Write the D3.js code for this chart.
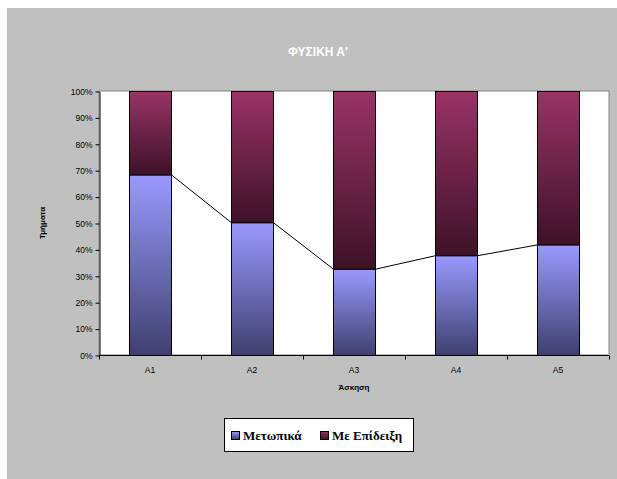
<!DOCTYPE html>
<html>
<head>
<meta charset="utf-8">
<script src="https://cdn.jsdelivr.net/npm/d3@7"></script>
<style>
  html, body { margin: 0; padding: 0; background: #ffffff; }
  svg { display: block; }
</style>
</head>
<body>
<script>
// ---- data ----
const categories = ["A1", "A2", "A3", "A4", "A5"];
const metopika = [0.684, 0.503, 0.327, 0.378, 0.419];     // Μετωπικά share
const epideixi = [0.316, 0.497, 0.673, 0.622, 0.581];     // Με Επίδειξη share
const seriesNames = ["Μετωπικά", "Με Επίδειξη"];
const yTicks = [0, 0.1, 0.2, 0.3, 0.4, 0.5, 0.6, 0.7, 0.8, 0.9, 1.0];
const title = "ΦΥΣΙΚΗ Α'";
const xTitle = "Άσκηση";
const yTitle = "Τμήματα";

const W = 617, H = 479;
const svg = d3.select("body").append("svg").attr("width", W).attr("height", H);

// gradients
const defs = svg.append("defs");
function grad(id, top, bottom) {
  const g = defs.append("linearGradient").attr("id", id)
    .attr("x1", 0).attr("y1", 0).attr("x2", 0).attr("y2", 1);
  g.append("stop").attr("offset", "0%").attr("stop-color", top);
  g.append("stop").attr("offset", "100%").attr("stop-color", bottom);
}
grad("gBlue", "#9999ff", "#3f3f6e");
grad("gRed", "#993366", "#3d1227");

// chart area background
svg.append("rect").attr("x", 7).attr("y", 8).attr("width", W - 7).attr("height", H - 8)
  .attr("fill", "#c0c0c0");

const plot = { left: 99, right: 609, top: 91, bottom: 355 };

const x = d3.scaleBand().domain(categories).range([plot.left, plot.right])
  .paddingInner(0.588).paddingOuter(0.294);
const y = d3.scaleLinear().domain([0, 1]).range([plot.bottom, plot.top]);

// plot area
svg.append("rect").attr("x", plot.left).attr("y", plot.top)
  .attr("width", plot.right - plot.left).attr("height", plot.bottom - plot.top)
  .attr("fill", "#ffffff").attr("stroke", "#808080").attr("stroke-width", 1);

// stacked data
const stackData = categories.map((c, i) => ({ cat: c, m: metopika[i], e: epideixi[i] }));
const stack = d3.stack().keys(["m", "e"])(stackData);
const fills = ["url(#gBlue)", "url(#gRed)"];

stack.forEach((layer, li) => {
  svg.append("g").selectAll("rect").data(layer).join("rect")
    .attr("x", d => x(d.data.cat) + 0.5)
    .attr("y", d => y(d[1]) + 0.5)
    .attr("width", x.bandwidth())
    .attr("height", d => y(d[0]) - y(d[1]))
    .attr("fill", fills[li])
    .attr("stroke", "#000000").attr("stroke-width", 1);
});

// series lines
const lineG = svg.append("g");
for (let i = 0; i < categories.length - 1; i++) {
  lineG.append("line")
    .attr("x1", x(categories[i]) + x.bandwidth() + 0.5)
    .attr("y1", y(metopika[i]) + 0.5)
    .attr("x2", x(categories[i + 1]) + 0.5)
    .attr("y2", y(metopika[i + 1]) + 0.5)
    .attr("stroke", "#000000").attr("stroke-width", 1);
}

// y axis
const yAxis = d3.axisLeft(y).tickValues(yTicks).tickFormat(d3.format(".0%"))
  .tickSizeInner(4).tickSizeOuter(0).tickPadding(3);
const gy = svg.append("g").attr("transform", `translate(${plot.left + 0.5},0.5)`).call(yAxis);
gy.select(".domain").attr("stroke", "#000000");
gy.selectAll(".tick line").attr("stroke", "#000000");
gy.selectAll("text").attr("font-family", "Liberation Sans, Arial, sans-serif")
  .attr("font-size", 8.5).attr("fill", "#000000");

// x axis line and ticks between categories
const gx = svg.append("g").attr("transform", `translate(0,${plot.bottom + 0.5})`);
gx.append("line").attr("x1", plot.left).attr("x2", plot.right)
  .attr("stroke", "#000000");
const step = x.step();
const boundaries = d3.range(categories.length + 1).map(i => plot.left + i * step);
gx.selectAll(".bt").data(boundaries).join("line")
  .attr("x1", d => Math.round(d) + 0.5).attr("x2", d => Math.round(d) + 0.5)
  .attr("y1", 0).attr("y2", 4).attr("stroke", "#000000");
gx.selectAll(".lbl").data(categories).join("text")
  .attr("x", d => x(d) + x.bandwidth() / 2)
  .attr("y", 17)
  .attr("text-anchor", "middle")
  .attr("font-family", "Liberation Sans, Arial, sans-serif")
  .attr("font-size", 8.5).attr("fill", "#000000")
  .text(d => d);

// titles
svg.append("text").attr("x", 318).attr("y", 56).attr("text-anchor", "middle")
  .attr("font-family", "Liberation Sans, Arial, sans-serif").attr("font-weight", "bold")
  .attr("font-size", 12).attr("fill", "#ffffff").text(title);

svg.append("text").attr("x", (plot.left + plot.right) / 2).attr("y", 390)
  .attr("text-anchor", "middle")
  .attr("font-family", "Liberation Sans, Arial, sans-serif").attr("font-weight", "bold")
  .attr("font-size", 8).attr("fill", "#000000").text(xTitle);

svg.append("text")
  .attr("transform", `translate(45,${(plot.top + plot.bottom) / 2}) rotate(-90)`)
  .attr("text-anchor", "middle")
  .attr("font-family", "Liberation Sans, Arial, sans-serif").attr("font-weight", "bold")
  .attr("font-size", 8).attr("fill", "#000000").text(yTitle);

// legend
const lg = svg.append("g");
lg.append("rect").attr("x", 224.5).attr("y", 418.5).attr("width", 189).attr("height", 33)
  .attr("fill", "#ffffff").attr("stroke", "#000000").attr("stroke-width", 1);
const legendItems = [
  { name: seriesNames[0], fill: "url(#gBlue)", x: 231 },
  { name: seriesNames[1], fill: "url(#gRed)", x: 320 }
];
legendItems.forEach(it => {
  lg.append("rect").attr("x", it.x + 0.5).attr("y", 431.5).attr("width", 8).attr("height", 8)
    .attr("fill", it.fill).attr("stroke", "#000000").attr("stroke-width", 1);
  lg.append("text").attr("x", it.x + 12).attr("y", 440)
    .attr("font-family", "Liberation Serif, Times New Roman, serif").attr("font-weight", "bold")
    .attr("font-size", 13).attr("fill", "#000000").text(it.name);
});
</script>
</body>
</html>
